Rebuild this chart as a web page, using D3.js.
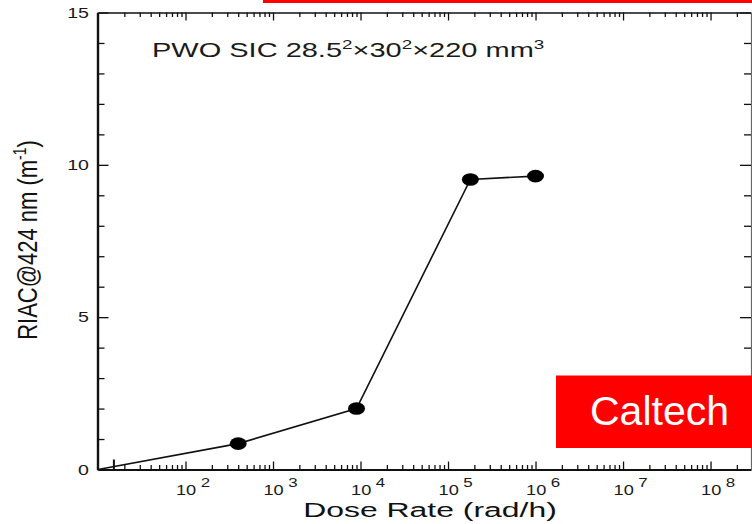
<!DOCTYPE html>
<html>
<head>
<meta charset="utf-8">
<script src="https://cdn.jsdelivr.net/npm/d3@7"></script>
<style>
  body { margin: 0; background: #fff; }
  svg { display: block; font-family: "Liberation Sans", Arial, sans-serif; }
</style>
</head>
<body>
<div id="svg-area"></div>
<script>
var svgWidth = 752;
var svgHeight = 524;

// values (first point is where the line starts, no marker)
var doseRate = [10, 400, 9000, 180000, 1000000];
var riac = [0, 0.85, 2.0, 9.52, 9.63];
var showMarker = [false, true, true, true, true];

// the odd tall tick near the origin
var originTick = [15];

var yMajorTicks = [0, 5, 10, 15];
var yMinorTicks = [1, 2, 3, 4, 6, 7, 8, 9, 11, 12, 13, 14];
var xDecades = [1e2, 1e3, 1e4, 1e5, 1e6, 1e7, 1e8];
var xExponents = ["2", "3", "4", "5", "6", "7", "8"];

var svg = d3.select("#svg-area").append("svg")
  .attr("width", svgWidth)
  .attr("height", svgHeight);

// scales
var xScale = d3.scaleLog().domain([10, 2.9e8]).range([98, 751]);
var yScale = d3.scaleLinear().domain([0, 15]).range([469.5, 12.5]);

var xMinor = xScale.ticks(10).filter(function(d) {
  return xDecades.indexOf(d) < 0 && d > 10;
});

function styleAxis(g, width) {
  g.select(".domain").attr("stroke", "#111").attr("stroke-width", width);
  g.selectAll(".tick line").attr("stroke", "#111").attr("stroke-width", 1.3);
}

// bottom axis
var bottomY = yScale(0);
svg.append("g")
  .attr("transform", "translate(0," + bottomY + ")")
  .call(d3.axisBottom(xScale).tickValues(xMinor).tickSizeInner(-4.5).tickSizeOuter(0).tickFormat(""))
  .call(styleAxis, 2.2);
svg.append("g")
  .attr("transform", "translate(0," + bottomY + ")")
  .call(d3.axisBottom(xScale).tickValues(xDecades).tickSizeInner(-8).tickSizeOuter(0).tickFormat(""))
  .call(function(g) { g.select(".domain").remove(); styleAxis(g, 0); });
svg.append("g")
  .attr("transform", "translate(0," + bottomY + ")")
  .call(d3.axisBottom(xScale).tickValues(originTick).tickSizeInner(-10).tickSizeOuter(0).tickFormat(""))
  .call(function(g) { g.select(".domain").remove(); styleAxis(g, 0); g.selectAll(".tick line").attr("stroke-width", 2); });

// top axis
var topY = yScale(15);
svg.append("g")
  .attr("transform", "translate(0," + topY + ")")
  .call(d3.axisTop(xScale).tickValues(xMinor).tickSizeInner(-4.5).tickSizeOuter(0).tickFormat(""))
  .call(styleAxis, 1.6);
svg.append("g")
  .attr("transform", "translate(0," + topY + ")")
  .call(d3.axisTop(xScale).tickValues(xDecades).tickSizeInner(-8).tickSizeOuter(0).tickFormat(""))
  .call(function(g) { g.select(".domain").remove(); styleAxis(g, 0); });

// left axis
var leftX = xScale(10) - 0.5;
svg.append("g")
  .attr("transform", "translate(" + leftX + ",0)")
  .call(d3.axisLeft(yScale).tickValues(yMinorTicks).tickSizeInner(-7).tickSizeOuter(0).tickFormat(""))
  .call(styleAxis, 2.4);
svg.append("g")
  .attr("transform", "translate(" + leftX + ",0)")
  .call(d3.axisLeft(yScale).tickValues(yMajorTicks).tickSizeInner(-11).tickSizeOuter(0).tickFormat(""))
  .call(function(g) { g.select(".domain").remove(); styleAxis(g, 0); });

// right axis
var rightX = xScale.range()[1];
svg.append("g")
  .attr("transform", "translate(" + rightX + ",0)")
  .call(d3.axisRight(yScale).tickValues(yMinorTicks).tickSizeInner(-7).tickSizeOuter(0).tickFormat(""))
  .call(styleAxis, 1.2)
  .call(function(g) { g.select(".domain").attr("stroke", "#666"); });
svg.append("g")
  .attr("transform", "translate(" + rightX + ",0)")
  .call(d3.axisRight(yScale).tickValues(yMajorTicks).tickSizeInner(-11).tickSizeOuter(0).tickFormat(""))
  .call(function(g) { g.select(".domain").remove(); styleAxis(g, 0); });

// y tick labels (stretched like the original bitmap)
svg.selectAll(".ylab")
  .data(yMajorTicks)
  .enter()
  .append("g")
  .attr("transform", function(d) { return "translate(89," + (yScale(d) + 5) + ") scale(1.4,1)"; })
  .append("text")
  .attr("text-anchor", "end")
  .attr("fill", "#1a1a1a")
  .style("font-size", "14px")
  .text(function(d) { return d; });

// x tick labels 10^n
var xLab = svg.selectAll(".xlab")
  .data(xDecades)
  .enter()
  .append("g")
  .attr("transform", function(d) { return "translate(" + (xScale(d) - 9.5) + ",495) scale(1.3,1)"; });
xLab.append("text")
  .attr("fill", "#1a1a1a")
  .style("font-size", "14px")
  .text("10");
xLab.append("text")
  .attr("x", 19)
  .attr("y", -8)
  .attr("fill", "#1a1a1a")
  .style("font-size", "13px")
  .text(function(d, i) { return xExponents[i]; });

// axis titles
svg.append("g")
  .attr("transform", "translate(430,516.5) scale(1.52,1)")
  .append("text")
  .attr("text-anchor", "middle")
  .attr("fill", "#111")
  .style("font-size", "21px")
  .text("Dose Rate (rad/h)");

var yTitle = svg.append("g")
  .attr("transform", "translate(37,240) scale(1.27,1) rotate(-90)")
  .append("text")
  .attr("text-anchor", "middle")
  .attr("fill", "#111")
  .style("font-size", "22px");
yTitle.append("tspan").text("RIAC@424 nm (m");
yTitle.append("tspan").attr("dy", -9).style("font-size", "14px").text("-1");
yTitle.append("tspan").attr("dy", 9).text(")");

// title
var title = svg.append("g")
  .attr("transform", "translate(152,56.5) scale(1.45,1)")
  .append("text")
  .attr("fill", "#1a1a1a")
  .style("font-size", "20px");
title.append("tspan").text("PWO SIC 28.5");
title.append("tspan").attr("dy", -8).style("font-size", "13px").text("2");
title.append("tspan").attr("dy", 8).text("\u00d730");
title.append("tspan").attr("dy", -8).style("font-size", "13px").text("2");
title.append("tspan").attr("dy", 8).text("\u00d7220 mm");
title.append("tspan").attr("dy", -8).style("font-size", "13px").text("3");

// line + markers
var points = doseRate.map(function(d, i) {
  return { dose: d, riac: riac[i], marker: showMarker[i] };
});

var line = d3.line()
  .x(function(d) { return xScale(d.dose); })
  .y(function(d) { return yScale(d.riac); });

svg.append("path")
  .datum(points)
  .attr("d", line)
  .attr("fill", "none")
  .attr("stroke", "#111")
  .attr("stroke-width", 1.6);

svg.selectAll(".dot")
  .data(points.filter(function(d) { return d.marker; }))
  .enter()
  .append("ellipse")
  .attr("cx", function(d) { return xScale(d.dose); })
  .attr("cy", function(d) { return yScale(d.riac); })
  .attr("rx", 8.5)
  .attr("ry", 6.3)
  .attr("fill", "#000");

// red decorations from the slide
svg.append("rect")
  .attr("x", 263).attr("y", 0)
  .attr("width", 489).attr("height", 3)
  .attr("fill", "#ff0000");

svg.append("rect")
  .attr("x", 556).attr("y", 375.5)
  .attr("width", 196).attr("height", 72.5)
  .attr("fill", "#ff0000");

svg.append("text")
  .attr("x", 659.5)
  .attr("y", 425)
  .attr("text-anchor", "middle")
  .attr("fill", "#fff")
  .style("font-size", "41px")
  .text("Caltech");
</script>
</body>
</html>
